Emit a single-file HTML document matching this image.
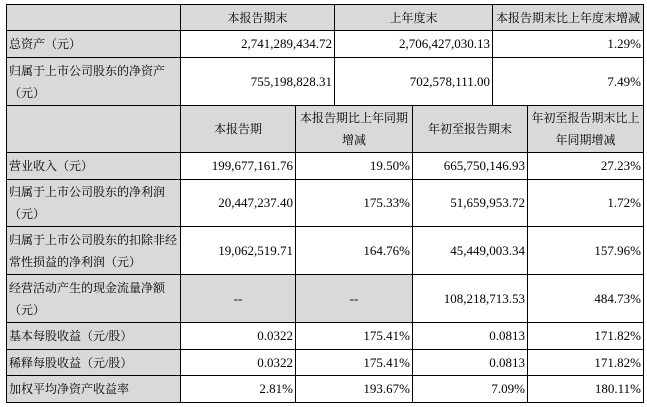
<!DOCTYPE html>
<html><head><meta charset="utf-8"><style>
body{margin:0;width:647px;height:407px;background:#fff;position:relative;overflow:hidden;font-family:"Liberation Serif","Noto Serif CJK SC",serif;font-size:13px;color:#000}
.c{position:absolute;box-sizing:border-box;border:1px solid #000;display:flex;align-items:center;padding:0 2px;line-height:22px;overflow:hidden;white-space:nowrap}
.c span{display:block}
.g{background:#d9d9d9}
.l{justify-content:flex-start;font-size:12px}
.r{justify-content:flex-end}
.m{justify-content:center;text-align:center;font-size:12px}
.m.d{font-size:13px}
</style></head><body>
<div class="c g" style="left:6px;top:4px;width:175px;height:27px"></div>
<div class="c g m" style="left:180px;top:4px;width:155px;height:27px">本报告期末</div>
<div class="c g m" style="left:334px;top:4px;width:159px;height:27px">上年度末</div>
<div class="c g m" style="left:492px;top:4px;width:152px;height:27px">本报告期末比上年度末增减</div>

<div class="c g l" style="left:6px;top:30px;width:175px;height:28px">总资产（元）</div>
<div class="c r" style="left:180px;top:30px;width:155px;height:28px">2,741,289,434.72</div>
<div class="c r" style="left:334px;top:30px;width:159px;height:28px">2,706,427,030.13</div>
<div class="c r" style="left:492px;top:30px;width:152px;height:28px">1.29%</div>

<div class="c g l" style="left:6px;top:57px;width:175px;height:49px"><span>归属于上市公司股东的净资产<br>（元）</span></div>
<div class="c r" style="left:180px;top:57px;width:155px;height:49px">755,198,828.31</div>
<div class="c r" style="left:334px;top:57px;width:159px;height:49px">702,578,111.00</div>
<div class="c r" style="left:492px;top:57px;width:152px;height:49px">7.49%</div>

<div class="c g" style="left:6px;top:105px;width:175px;height:48px"></div>
<div class="c g m" style="left:180px;top:105px;width:116px;height:48px">本报告期</div>
<div class="c g m" style="left:295px;top:105px;width:118px;height:48px"><span>本报告期比上年同期<br>增减</span></div>
<div class="c g m" style="left:412px;top:105px;width:116px;height:48px">年初至报告期末</div>
<div class="c g m" style="left:527px;top:105px;width:117px;height:48px"><span>年初至报告期末比上<br>年同期增减</span></div>

<div class="c g l" style="left:6px;top:152px;width:175px;height:28px">营业收入（元）</div>
<div class="c r" style="left:180px;top:152px;width:116px;height:28px">199,677,161.76</div>
<div class="c r" style="left:295px;top:152px;width:118px;height:28px">19.50%</div>
<div class="c r" style="left:412px;top:152px;width:116px;height:28px">665,750,146.93</div>
<div class="c r" style="left:527px;top:152px;width:117px;height:28px">27.23%</div>

<div class="c g l" style="left:6px;top:179px;width:175px;height:48px"><span>归属于上市公司股东的净利润<br>（元）</span></div>
<div class="c r" style="left:180px;top:179px;width:116px;height:48px">20,447,237.40</div>
<div class="c r" style="left:295px;top:179px;width:118px;height:48px">175.33%</div>
<div class="c r" style="left:412px;top:179px;width:116px;height:48px">51,659,953.72</div>
<div class="c r" style="left:527px;top:179px;width:117px;height:48px">1.72%</div>

<div class="c g l" style="left:6px;top:226px;width:175px;height:49px"><span>归属于上市公司股东的扣除非经<br>常性损益的净利润（元）</span></div>
<div class="c r" style="left:180px;top:226px;width:116px;height:49px">19,062,519.71</div>
<div class="c r" style="left:295px;top:226px;width:118px;height:49px">164.76%</div>
<div class="c r" style="left:412px;top:226px;width:116px;height:49px">45,449,003.34</div>
<div class="c r" style="left:527px;top:226px;width:117px;height:49px">157.96%</div>

<div class="c g l" style="left:6px;top:274px;width:175px;height:49px"><span>经营活动产生的现金流量净额<br>（元）</span></div>
<div class="c g m d" style="left:180px;top:274px;width:116px;height:49px">--</div>
<div class="c g m d" style="left:295px;top:274px;width:118px;height:49px">--</div>
<div class="c r" style="left:412px;top:274px;width:116px;height:49px">108,218,713.53</div>
<div class="c r" style="left:527px;top:274px;width:117px;height:49px">484.73%</div>

<div class="c g l" style="left:6px;top:322px;width:175px;height:28px">基本每股收益（元/股）</div>
<div class="c r" style="left:180px;top:322px;width:116px;height:28px">0.0322</div>
<div class="c r" style="left:295px;top:322px;width:118px;height:28px">175.41%</div>
<div class="c r" style="left:412px;top:322px;width:116px;height:28px">0.0813</div>
<div class="c r" style="left:527px;top:322px;width:117px;height:28px">171.82%</div>

<div class="c g l" style="left:6px;top:349px;width:175px;height:27px">稀释每股收益（元/股）</div>
<div class="c r" style="left:180px;top:349px;width:116px;height:27px">0.0322</div>
<div class="c r" style="left:295px;top:349px;width:118px;height:27px">175.41%</div>
<div class="c r" style="left:412px;top:349px;width:116px;height:27px">0.0813</div>
<div class="c r" style="left:527px;top:349px;width:117px;height:27px">171.82%</div>

<div class="c g l" style="left:6px;top:375px;width:175px;height:28px">加权平均净资产收益率</div>
<div class="c r" style="left:180px;top:375px;width:116px;height:28px">2.81%</div>
<div class="c r" style="left:295px;top:375px;width:118px;height:28px">193.67%</div>
<div class="c r" style="left:412px;top:375px;width:116px;height:28px">7.09%</div>
<div class="c r" style="left:527px;top:375px;width:117px;height:28px">180.11%</div>
</body></html>
